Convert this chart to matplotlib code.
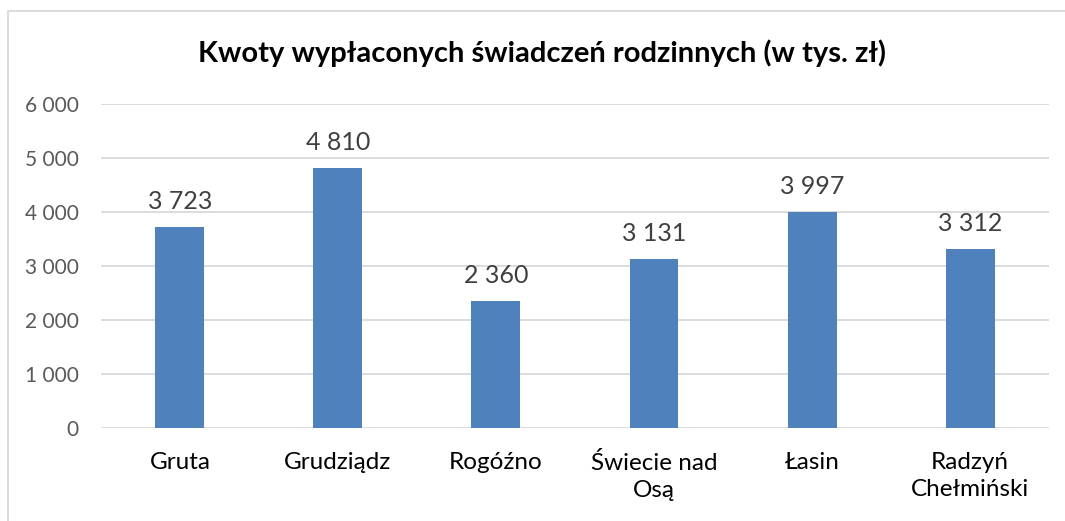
import matplotlib.pyplot as plt
from matplotlib.patches import Rectangle

categories = ['Gruta', 'Grudziądz', 'Rogóźno', 'Świecie nad\nOsą', 'Łasin', 'Radzyń\nChełmiński']
values = [3723, 4810, 2360, 3131, 3997, 3312]
value_labels = ['3 723', '4 810', '2 360', '3 131', '3 997', '3 312']
yticks = [0, 1000, 2000, 3000, 4000, 5000, 6000]
ytick_labels = ['0', '1 000', '2 000', '3 000', '4 000', '5 000', '6 000']

plt.rcParams['font.family'] = ['Lato', 'DejaVu Sans']

fig = plt.figure(figsize=(10.65, 5.21), dpi=100)
ax = fig.add_axes([0.0948, 0.1785, 0.8902, 0.6219])

# outer chart frame (cut off at right and bottom)
fig.patches.append(Rectangle((8 / 1065, -0.1), 1.2, 1 - 11 / 521 + 0.1,
                             transform=fig.transFigure, fill=False,
                             edgecolor='#D9D9D9', linewidth=1.3))

x = range(len(categories))
ax.bar(x, values, width=0.31, color='#4F81BD', zorder=3)

for i, v in enumerate(values):
    ax.annotate(value_labels[i], (i, v), xytext=(0, 10), textcoords='offset points',
                ha='center', va='bottom', fontsize=18, color='#404040')

ax.set_xlim(-0.5, len(categories) - 0.5)
ax.set_ylim(0, 6000)
ax.set_yticks(yticks)
ax.set_yticklabels(ytick_labels, fontsize=15, color='#595959')
ax.set_xticks(list(x))
ax.set_xticklabels(categories, fontsize=17.5, color='#000000', linespacing=1.35)
ax.tick_params(axis='both', length=0)
ax.tick_params(axis='y', pad=16)
ax.tick_params(axis='x', pad=17)
ax.grid(axis='y', color='#D9D9D9', linewidth=1.3, zorder=0)
for s in ax.spines.values():
    s.set_visible(False)

fig.text(0.509, 0.897, 'Kwoty wypłaconych świadczeń rodzinnych (w tys. zł)',
         ha='center', va='center', fontsize=21, fontweight='bold')

fig.savefig('out.png', dpi=100)
